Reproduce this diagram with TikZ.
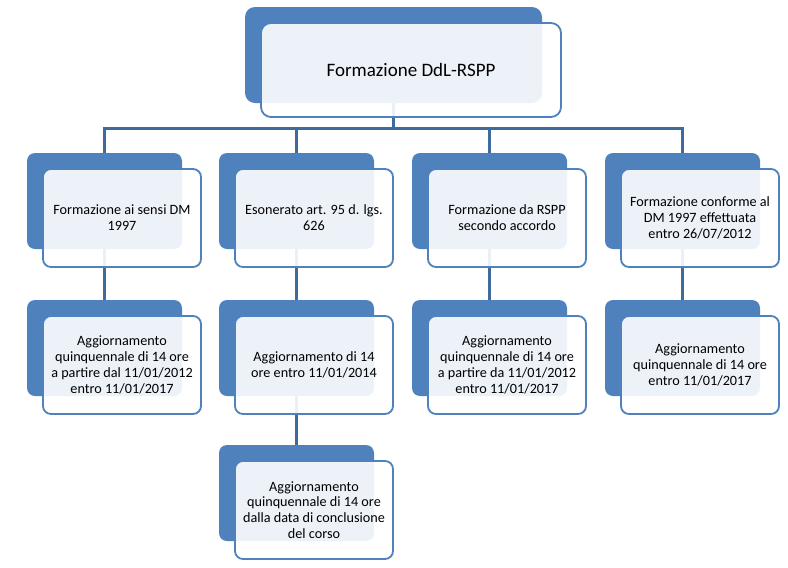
\documentclass[tikz,border=0pt]{standalone}
\usepackage{fontspec}
\setmainfont{Carlito}
\usetikzlibrary{calc}
\definecolor{ddlblu}{HTML}{4F81BD}
\definecolor{ddllinea}{HTML}{3E6A9C}
\pgfdeclarelayer{sfondo}
\pgfsetlayers{sfondo,main}

\begin{document}
\begin{tikzpicture}[x=1pt,y=-1pt,
  retro/.style={fill=ddlblu, rounded corners=8pt, minimum width=155pt, minimum height=96pt, inner sep=0pt},
  fronte/.style={draw=ddlblu, line width=1.8pt, fill=white, fill opacity=0.9, text opacity=1,
    rounded corners=8pt, minimum width=158pt, minimum height=98pt, inner sep=0pt,
    align=center, font=\fontsize{14.2}{15.8}\selectfont},
  linea/.style={draw=ddllinea, line width=2.8pt}]
  \useasboundingbox (0,0) rectangle (788,568);
  % radice
  \node[retro, minimum width=297pt, rounded corners=10pt] (rt) at (393.5,55) {};
  \node[fronte, minimum width=300pt, minimum height=94pt, rounded corners=10pt,
    font=\fontsize{19}{22}\selectfont] (ft) at (411,70) {Formazione DdL-RSPP};
  % secondo livello
  \node[retro] (r1) at (104.5,201) {};
  \node[fronte] (f1) at ($(r1)+(17.5,17)$) {Formazione ai sensi DM\\1997};
  \node[retro] (r2) at (296.5,201) {};
  \node[fronte] (f2) at ($(r2)+(17.5,17)$) {Esonerato art. 95 d. lgs.\\626};
  \node[retro] (r3) at (489.5,201) {};
  \node[fronte] (f3) at ($(r3)+(17.5,17)$) {Formazione da RSPP\\secondo accordo};
  \node[retro] (r4) at (682.5,201) {};
  \node[fronte] (f4) at ($(r4)+(17.5,17)$) {Formazione conforme al\\DM 1997 effettuata\\entro 26/07/2012};
  % aggiornamenti
  \node[retro] (a1) at (104.5,348) {};
  \node[fronte] (g1) at ($(a1)+(17.5,17)$) {Aggiornamento\\quinquennale di 14 ore\\a partire dal 11/01/2012\\entro 11/01/2017};
  \node[retro] (a2) at (296.5,348) {};
  \node[fronte] (g2) at ($(a2)+(17.5,17)$) {Aggiornamento di 14\\ore entro 11/01/2014};
  \node[retro] (a3) at (489.5,348) {};
  \node[fronte] (g3) at ($(a3)+(17.5,17)$) {Aggiornamento\\quinquennale di 14 ore\\a partire da 11/01/2012\\entro 11/01/2017};
  \node[retro] (a4) at (682.5,348) {};
  \node[fronte] (g4) at ($(a4)+(17.5,17)$) {Aggiornamento\\quinquennale di 14 ore\\entro 11/01/2017};
  \node[retro] (c2) at (296.5,493) {};
  \node[fronte] (h2) at ($(c2)+(17.5,17)$) {Aggiornamento\\quinquennale di 14 ore\\dalla data di conclusione\\del corso};
  % connettori dietro ai riquadri
  \begin{pgfonlayer}{sfondo}
    \draw[linea] (rt.south) -- ++(0,25) -| (r1.north);
    \draw[linea] (rt.south) -- ++(0,25) -| (r2.north);
    \draw[linea] (rt.south) -- ++(0,25) -| (r3.north);
    \draw[linea] (rt.south) -- ++(0,25) -| (r4.north);
    \draw[linea] (r1.south) -- (a1.north);
    \draw[linea] (r2.south) -- (a2.north);
    \draw[linea] (r3.south) -- (a3.north);
    \draw[linea] (r4.south) -- (a4.north);
    \draw[linea] (a2.south) -- (c2.north);
  \end{pgfonlayer}
\end{tikzpicture}
\end{document}
